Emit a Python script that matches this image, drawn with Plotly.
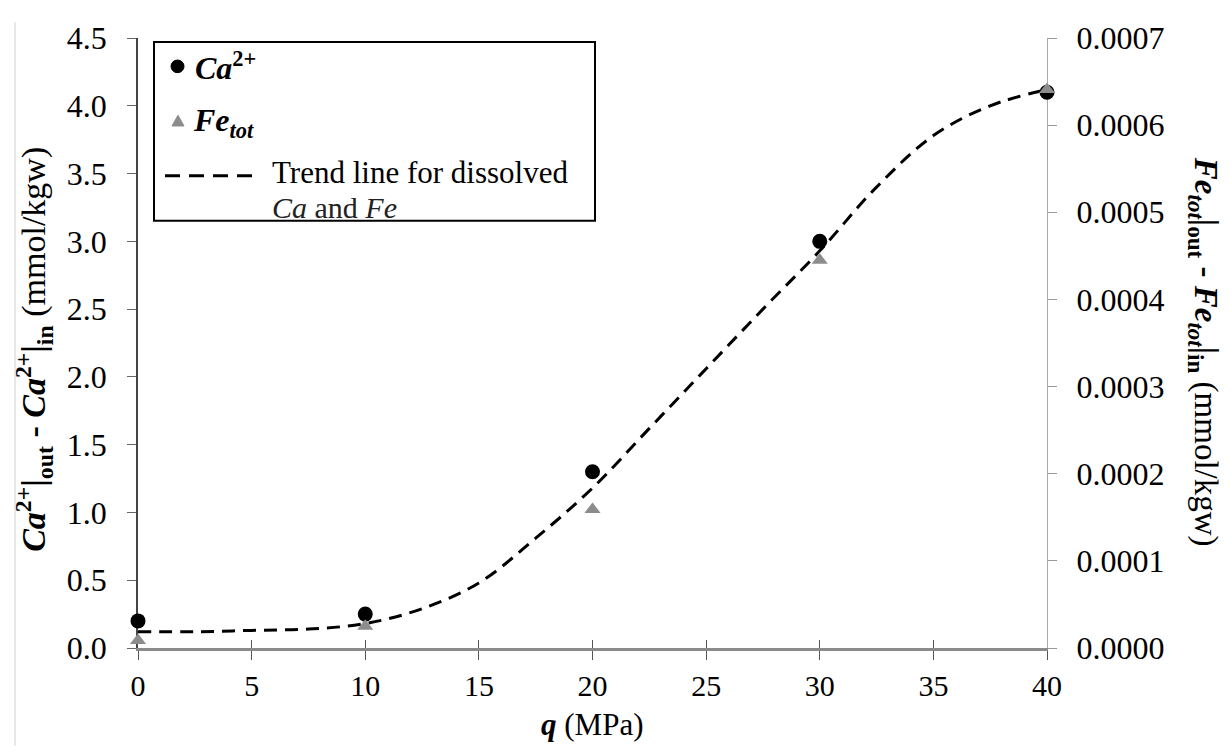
import plotly.graph_objects as go

# ---- data ----
q_points = [0, 10, 20, 30, 40]
ca_values = [0.20, 0.25, 1.30, 3.00, 4.10]
fe_values = [0.0000086, 0.000025, 0.000159, 0.000445, 0.000641]

trend_q = [0, 2.5, 5, 7.5, 10, 12.5, 15, 17.5, 20, 22.5, 25, 27.5, 30, 32.5, 35, 37.5, 40]
trend_ca = [0.12, 0.12, 0.13, 0.14, 0.18, 0.29, 0.48, 0.81, 1.18, 1.62, 2.06, 2.50, 2.93, 3.40, 3.78, 4.00, 4.12]

left_ticks = [0, 0.5, 1.0, 1.5, 2.0, 2.5, 3.0, 3.5, 4.0, 4.5]
right_ticks = [0, 0.0001, 0.0002, 0.0003, 0.0004, 0.0005, 0.0006, 0.0007]
x_ticks = [0, 5, 10, 15, 20, 25, 30, 35, 40]

legend_labels = [
    "<b><i>Ca</i><sup>2+</sup></b>",
    "<b><i>Fe<sub>tot</sub></i></b>",
    "Trend line for dissolved",
    "<i>Ca</i> and <i>Fe</i>",
]

FONT = "Liberation Serif, Times New Roman, serif"

# figure geometry (page body has an 8px margin)
W, H = 1215, 740
L, R, T, B = 130, 176, 16, 100
PW, PH = W - L - R, H - T - B


def px(xw):  # window x pixel -> paper x
    return (xw - 8 - L) / PW


def py(yw):  # window y pixel -> paper y
    return (H - B - (yw - 8)) / PH


fig = go.Figure()

fig.add_trace(go.Scatter(
    x=trend_q, y=trend_ca, mode="lines",
    name=legend_labels[2] + " " + legend_labels[3],
    line=dict(color="black", width=3, dash="13px,8px", shape="spline"),
    cliponaxis=False, showlegend=False,
))
fig.add_trace(go.Scatter(
    x=q_points, y=ca_values, mode="markers", name=legend_labels[0],
    marker=dict(symbol="circle", size=15, color="black"),
    cliponaxis=False, showlegend=False,
))
fig.add_trace(go.Scatter(
    x=q_points, y=fe_values, mode="markers", yaxis="y2", name=legend_labels[1],
    marker=dict(symbol="triangle-up", size=14, color="#8c8c8c"),
    cliponaxis=False, showlegend=False,
))

fig.update_layout(
    width=W, height=H,
    margin=dict(l=L, r=R, t=T, b=B),
    paper_bgcolor="white", plot_bgcolor="white",
    font=dict(family=FONT, size=30, color="black"),
    showlegend=False,
    xaxis=dict(
        range=[0, 40], tickvals=x_ticks, ticktext=[str(v) for v in x_ticks],
        showgrid=False, zeroline=False,
        showline=True, linecolor="#8a8a8a", linewidth=2.5,
        ticks="outside", ticklen=9, tickcolor="#555555", tickwidth=1,
        ticklabelstandoff=0, ticklabeloverflow="allow",
        tickfont=dict(family=FONT, size=30, color="black"),
        layer="below traces",
    ),
    xaxis2=dict(
        matches="x", overlaying="x", anchor="y", side="bottom",
        tickvals=x_ticks, showticklabels=False,
        showgrid=False, zeroline=False, showline=False,
        ticks="inside", ticklen=8, tickcolor="#555555", tickwidth=1,
        layer="below traces",
    ),
    yaxis=dict(
        range=[0, 4.5], tickvals=left_ticks,
        ticktext=[f"{v:.1f}" for v in left_ticks],
        showgrid=False, zeroline=False,
        showline=True, linecolor="#444444", linewidth=1.5,
        ticks="outside", ticklen=9, tickcolor="#666666", tickwidth=1,
        ticklabelstandoff=14, ticklabeloverflow="allow",
        tickfont=dict(family=FONT, size=32, color="black"),
        layer="below traces",
    ),
    yaxis2=dict(
        range=[0, 0.0007], tickvals=right_ticks,
        ticktext=[f"{v:.4f}" for v in right_ticks],
        overlaying="y", side="right", anchor="x",
        showgrid=False, zeroline=False,
        showline=True, linecolor="#aaaaaa", linewidth=1,
        ticks="outside", ticklen=9, tickcolor="#999999", tickwidth=1,
        ticklabelstandoff=13, ticklabeloverflow="allow",
        tickfont=dict(family=FONT, size=32, color="black"),
        layer="below traces",
    ),
)

# an invisible trace to activate xaxis2 (gives crossing ticks)
fig.add_trace(go.Scatter(x=[0, 40], y=[0, 0], xaxis="x2", mode="lines",
                         line=dict(width=0), hoverinfo="skip", showlegend=False))

# ---- axis titles ----
fig.add_annotation(
    text="<b><i>Ca</i><sup>2+</sup>|<sub>out</sub> - <i>Ca</i><sup>2+</sup>|<sub>in</sub></b> (mmol/kgw)",
    xref="paper", yref="paper", x=px(34), y=py(343),
    xanchor="center", yanchor="middle", textangle=-90, showarrow=False,
    font=dict(family=FONT, size=34, color="black"),
)
fig.add_annotation(
    text="<b><i>Fe<sub>tot</sub></i>|<sub>out</sub> - <i>Fe<sub>tot</sub></i>|<sub>in</sub></b> (mmol/kgw)",
    xref="paper", yref="paper", x=px(1203), y=py(345),
    xanchor="center", yanchor="middle", textangle=90, showarrow=False,
    font=dict(family=FONT, size=33, color="black"),
)
fig.add_annotation(
    text="<b><i>q</i></b> (MPa)",
    xref="paper", yref="paper", x=px(592), y=py(726),
    xanchor="center", yanchor="middle", showarrow=False,
    font=dict(family=FONT, size=31, color="black"),
)

# ---- legend box (drawn by hand to match the layout) ----
fig.add_shape(type="rect", xref="paper", yref="paper",
              x0=px(154), x1=px(595), y0=py(211), y1=py(28),
              line=dict(color="black", width=2), fillcolor="white", layer="above")
fig.add_shape(type="circle", xref="paper", yref="paper",
              x0=px(171), x1=px(184), y0=py(59.5), y1=py(46.5),
              line=dict(color="black", width=1), fillcolor="black", layer="above")
fig.add_shape(type="path", xref="paper", yref="paper",
              path=f"M {px(172)},{py(114)} L {px(184)},{py(114)} L {px(178)},{py(103)} Z",
              line=dict(color="#8c8c8c", width=1), fillcolor="#8c8c8c", layer="above")
fig.add_shape(type="line", xref="paper", yref="paper",
              x0=px(165), x1=px(252), y0=py(165), y1=py(165),
              line=dict(color="black", width=3, dash="15px,9px"), layer="above")
fig.add_annotation(text=legend_labels[0], xref="paper", yref="paper",
                   x=px(193), y=py(53), xanchor="left", yanchor="middle",
                   showarrow=False, font=dict(family=FONT, size=32, color="black"))
fig.add_annotation(text=legend_labels[1], xref="paper", yref="paper",
                   x=px(191), y=py(110), xanchor="left", yanchor="middle",
                   showarrow=False, font=dict(family=FONT, size=32, color="black"))
fig.add_annotation(text=legend_labels[2], xref="paper", yref="paper",
                   x=px(271), y=py(162), xanchor="left", yanchor="middle",
                   showarrow=False, borderpad=0,
                   font=dict(family=FONT, size=31, color="black"))
fig.add_annotation(text=legend_labels[3], xref="paper", yref="paper",
                   x=px(271), y=py(197), xanchor="left", yanchor="middle",
                   showarrow=False, borderpad=0,
                   font=dict(family=FONT, size=30, color="#222222"))

# thin page border line at the left of the picture
fig.add_shape(type="line", xref="paper", yref="paper",
              x0=px(15), x1=px(15), y0=-B / PH, y1=1 + T / PH,
              line=dict(color="#d0d0d0", width=1))

fig.write_html("out.html")
